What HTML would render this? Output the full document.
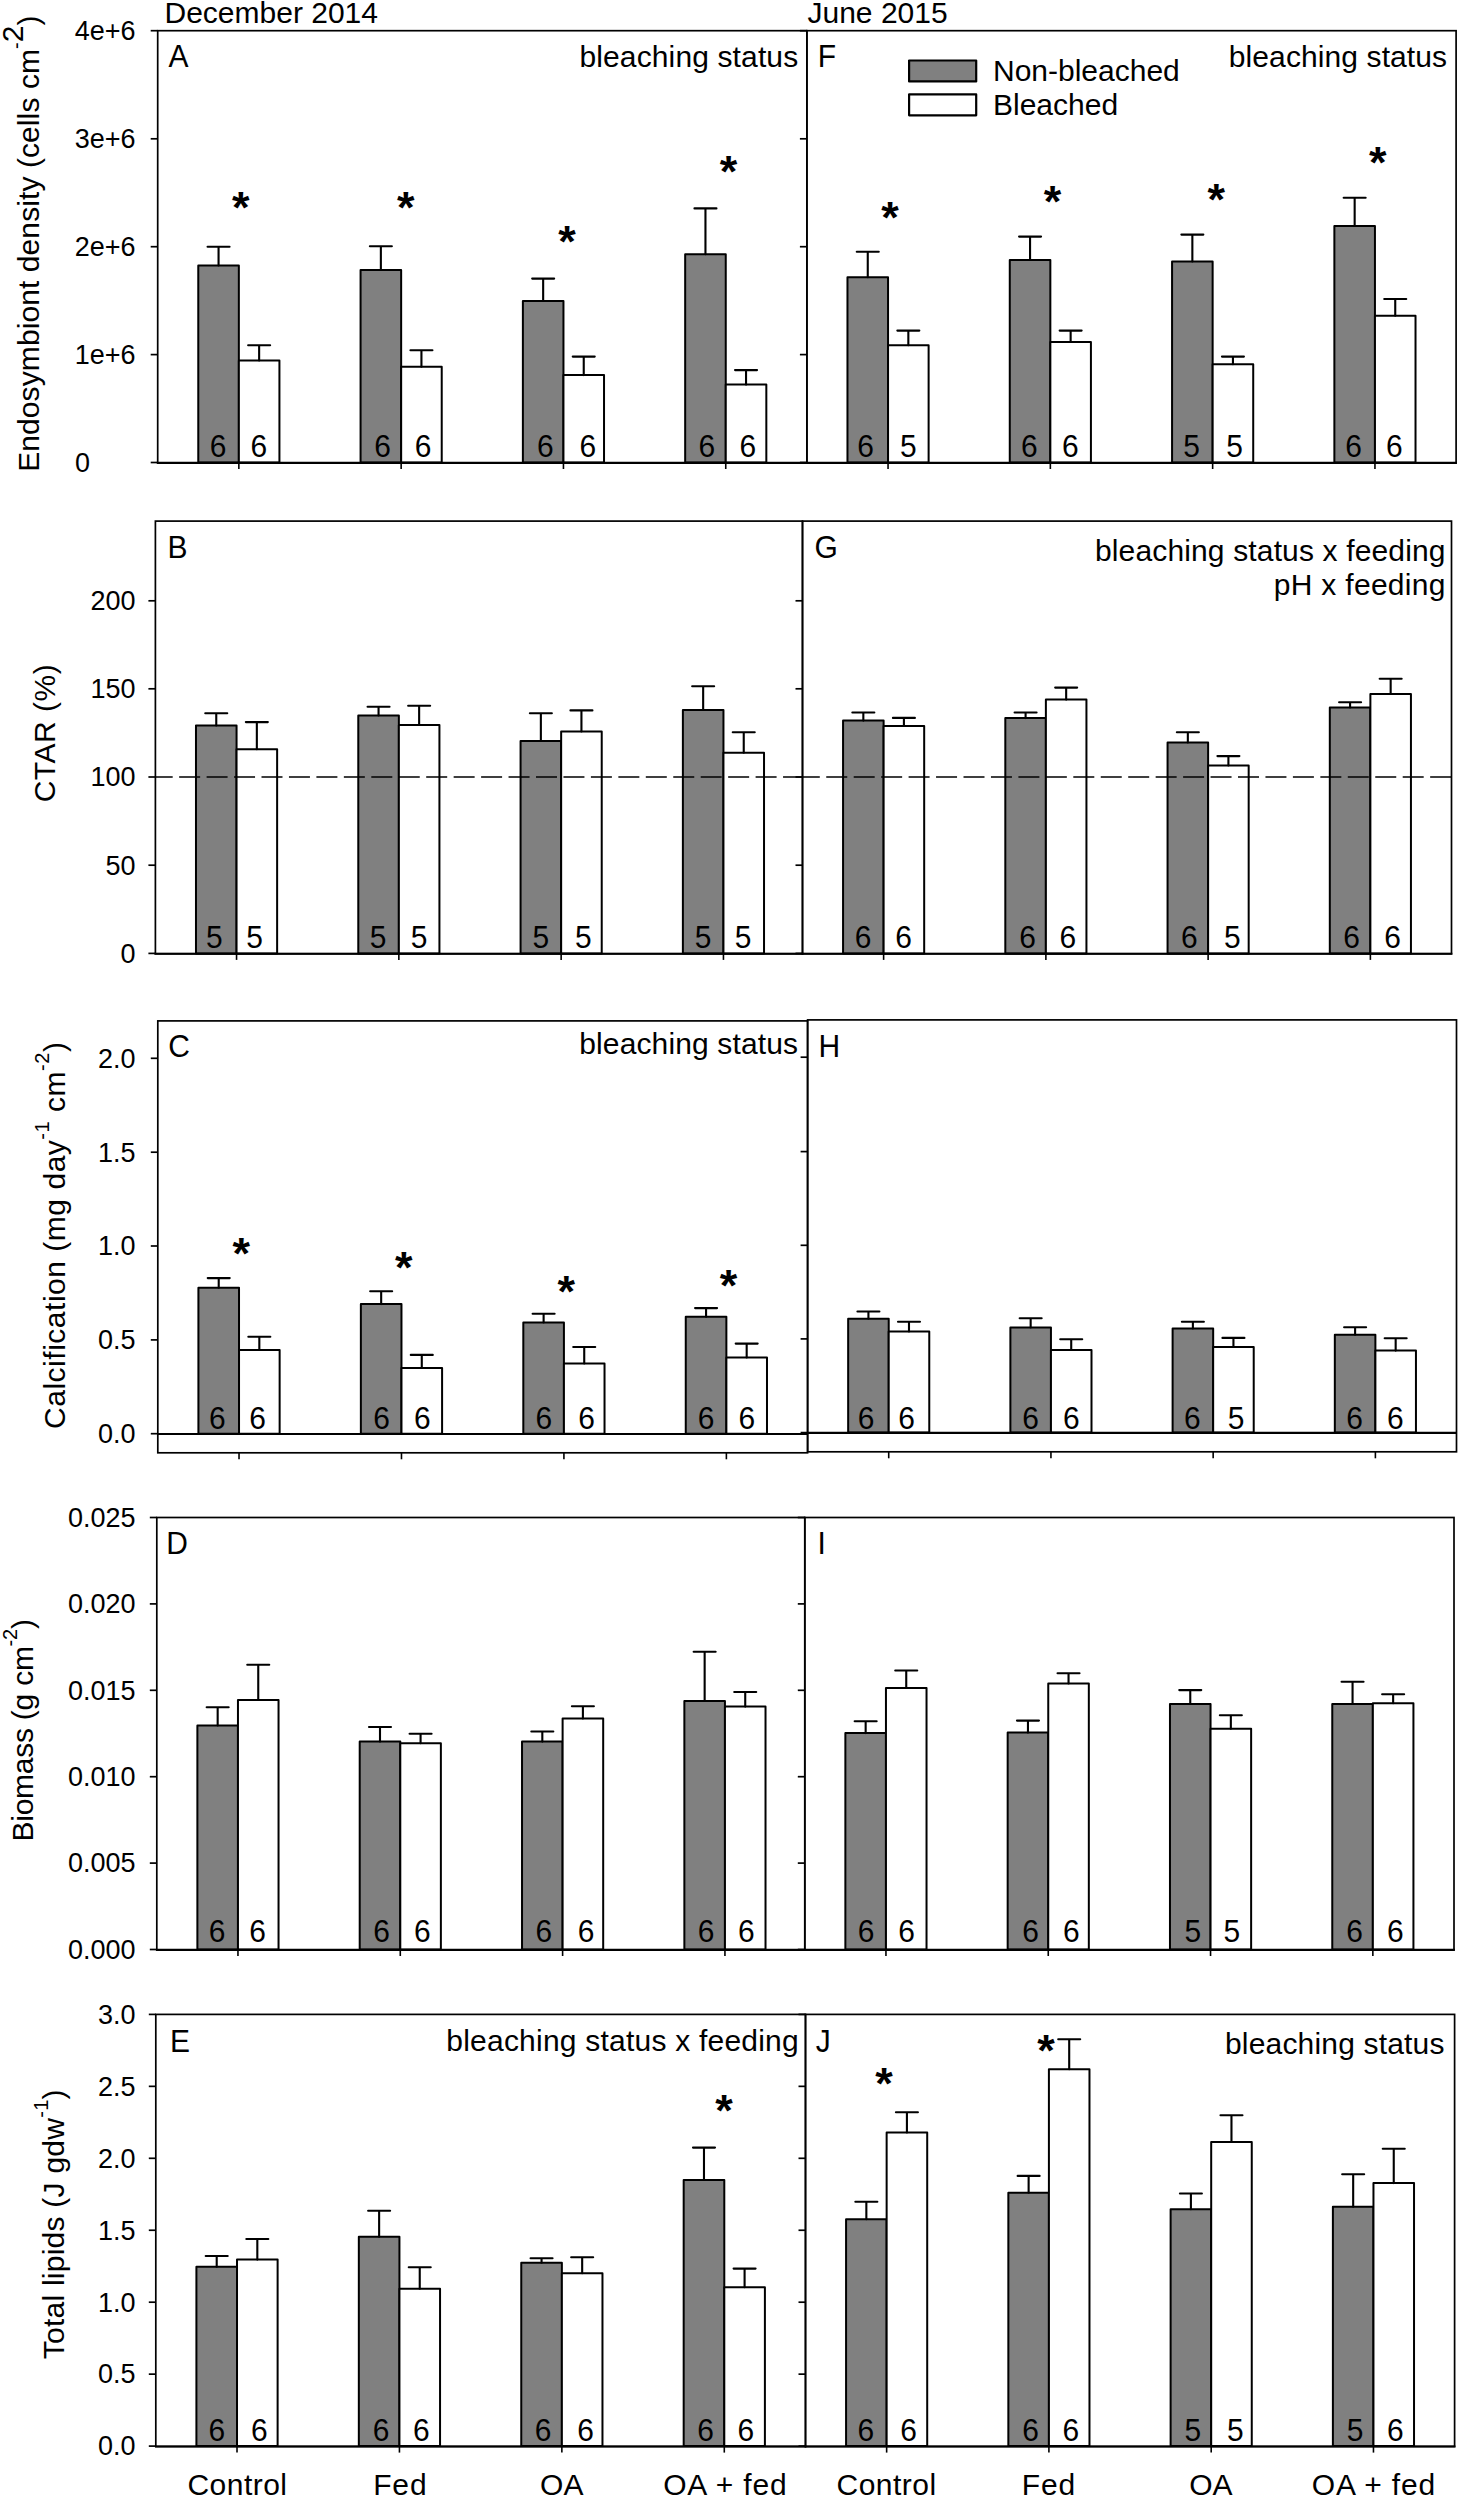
<!DOCTYPE html><html><head><meta charset="utf-8"><title>Figure</title>
<style>html,body{margin:0;padding:0;background:#fff;overflow:hidden;}svg{display:block;}text{font-family:"Liberation Sans", sans-serif;}</style></head><body>
<svg width="1461" height="2500" viewBox="0 0 1461 2500">
<rect x="0" y="0" width="1461" height="2500" fill="#fff"/>
<rect x="198.27" y="265.5" width="40.58" height="197" fill="#808080" stroke="#000" stroke-width="2.0" stroke-linejoin="round"/>
<rect x="238.85" y="360.4" width="40.58" height="102.1" fill="#fff" stroke="#000" stroke-width="2.0" stroke-linejoin="round"/>
<path d="M218.56 265.5V246.8M207.56 246.8H229.56" fill="none" stroke="#000" stroke-width="2.1" stroke-linecap="round"/>
<path d="M259.14 360.4V345.3M248.14 345.3H270.14" fill="none" stroke="#000" stroke-width="2.1" stroke-linecap="round"/>
<text transform="translate(218.2 457.4) scale(1 1.065)" font-size="30" text-anchor="middle">6</text>
<text transform="translate(258.8 457.4) scale(1 1.065)" font-size="30" text-anchor="middle">6</text>
<path d="M238.85 462.5V469" stroke="#000" stroke-width="1.6"/>
<rect x="360.57" y="270" width="40.58" height="192.5" fill="#808080" stroke="#000" stroke-width="2.0" stroke-linejoin="round"/>
<rect x="401.15" y="366.7" width="40.58" height="95.8" fill="#fff" stroke="#000" stroke-width="2.0" stroke-linejoin="round"/>
<path d="M380.86 270V246.3M369.86 246.3H391.86" fill="none" stroke="#000" stroke-width="2.1" stroke-linecap="round"/>
<path d="M421.44 366.7V350.2M410.44 350.2H432.44" fill="none" stroke="#000" stroke-width="2.1" stroke-linecap="round"/>
<text transform="translate(382.5 457.4) scale(1 1.065)" font-size="30" text-anchor="middle">6</text>
<text transform="translate(423.1 457.4) scale(1 1.065)" font-size="30" text-anchor="middle">6</text>
<path d="M401.15 462.5V469" stroke="#000" stroke-width="1.6"/>
<rect x="522.88" y="301" width="40.58" height="161.5" fill="#808080" stroke="#000" stroke-width="2.0" stroke-linejoin="round"/>
<rect x="563.45" y="375.1" width="40.58" height="87.4" fill="#fff" stroke="#000" stroke-width="2.0" stroke-linejoin="round"/>
<path d="M543.16 301V278.6M532.16 278.6H554.16" fill="none" stroke="#000" stroke-width="2.1" stroke-linecap="round"/>
<path d="M583.74 375.1V356.6M572.74 356.6H594.74" fill="none" stroke="#000" stroke-width="2.1" stroke-linecap="round"/>
<text transform="translate(545.3 457.4) scale(1 1.065)" font-size="30" text-anchor="middle">6</text>
<text transform="translate(587.9 457.4) scale(1 1.065)" font-size="30" text-anchor="middle">6</text>
<path d="M563.45 462.5V469" stroke="#000" stroke-width="1.6"/>
<rect x="685.17" y="254.2" width="40.58" height="208.3" fill="#808080" stroke="#000" stroke-width="2.0" stroke-linejoin="round"/>
<rect x="725.75" y="384.6" width="40.58" height="77.9" fill="#fff" stroke="#000" stroke-width="2.0" stroke-linejoin="round"/>
<path d="M705.46 254.2V208.4M694.46 208.4H716.46" fill="none" stroke="#000" stroke-width="2.1" stroke-linecap="round"/>
<path d="M746.04 384.6V370.1M735.04 370.1H757.04" fill="none" stroke="#000" stroke-width="2.1" stroke-linecap="round"/>
<text transform="translate(706.9 457.4) scale(1 1.065)" font-size="30" text-anchor="middle">6</text>
<text transform="translate(747.8 457.4) scale(1 1.065)" font-size="30" text-anchor="middle">6</text>
<path d="M725.75 462.5V469" stroke="#000" stroke-width="1.6"/>
<rect x="157.7" y="30.7" width="649.2" height="432.15" fill="none" stroke="#000" stroke-width="1.7"/>
<path d="M156.85 462.85H807.75" stroke="#000" stroke-width="2.1"/>
<path d="M150.7 462.5H157.7" stroke="#000" stroke-width="1.7"/>
<text transform="translate(75 471.8) scale(1 1.05)" font-size="27">0</text>
<path d="M150.7 354.6H157.7" stroke="#000" stroke-width="1.7"/>
<text transform="translate(135.6 363.9) scale(1 1.05)" font-size="27" text-anchor="end">1e+6</text>
<path d="M150.7 246.7H157.7" stroke="#000" stroke-width="1.7"/>
<text transform="translate(135.6 256) scale(1 1.05)" font-size="27" text-anchor="end">2e+6</text>
<path d="M150.7 138.8H157.7" stroke="#000" stroke-width="1.7"/>
<text transform="translate(135.6 148.1) scale(1 1.05)" font-size="27" text-anchor="end">3e+6</text>
<path d="M150.7 30.7H157.7" stroke="#000" stroke-width="1.7"/>
<text transform="translate(135.6 40) scale(1 1.05)" font-size="27" text-anchor="end">4e+6</text>
<rect x="847.47" y="277.3" width="40.57" height="185.2" fill="#808080" stroke="#000" stroke-width="2.0" stroke-linejoin="round"/>
<rect x="888.05" y="345.3" width="40.57" height="117.2" fill="#fff" stroke="#000" stroke-width="2.0" stroke-linejoin="round"/>
<path d="M867.76 277.3V251.8M856.76 251.8H878.76" fill="none" stroke="#000" stroke-width="2.1" stroke-linecap="round"/>
<path d="M908.34 345.3V330.6M897.34 330.6H919.34" fill="none" stroke="#000" stroke-width="2.1" stroke-linecap="round"/>
<text transform="translate(865.5 457.4) scale(1 1.065)" font-size="30" text-anchor="middle">6</text>
<text transform="translate(908.4 457.4) scale(1 1.065)" font-size="30" text-anchor="middle">5</text>
<path d="M888.05 462.5V469" stroke="#000" stroke-width="1.6"/>
<rect x="1009.77" y="259.9" width="40.57" height="202.6" fill="#808080" stroke="#000" stroke-width="2.0" stroke-linejoin="round"/>
<rect x="1050.35" y="341.9" width="40.57" height="120.6" fill="#fff" stroke="#000" stroke-width="2.0" stroke-linejoin="round"/>
<path d="M1030.06 259.9V236.6M1019.06 236.6H1041.06" fill="none" stroke="#000" stroke-width="2.1" stroke-linecap="round"/>
<path d="M1070.64 341.9V330.6M1059.64 330.6H1081.64" fill="none" stroke="#000" stroke-width="2.1" stroke-linecap="round"/>
<text transform="translate(1029.4 457.4) scale(1 1.065)" font-size="30" text-anchor="middle">6</text>
<text transform="translate(1070.3 457.4) scale(1 1.065)" font-size="30" text-anchor="middle">6</text>
<path d="M1050.35 462.5V469" stroke="#000" stroke-width="1.6"/>
<rect x="1172.07" y="261.5" width="40.57" height="201" fill="#808080" stroke="#000" stroke-width="2.0" stroke-linejoin="round"/>
<rect x="1212.65" y="364.2" width="40.57" height="98.3" fill="#fff" stroke="#000" stroke-width="2.0" stroke-linejoin="round"/>
<path d="M1192.36 261.5V234.6M1181.36 234.6H1203.36" fill="none" stroke="#000" stroke-width="2.1" stroke-linecap="round"/>
<path d="M1232.94 364.2V356.6M1221.94 356.6H1243.94" fill="none" stroke="#000" stroke-width="2.1" stroke-linecap="round"/>
<text transform="translate(1191.6 457.4) scale(1 1.065)" font-size="30" text-anchor="middle">5</text>
<text transform="translate(1234.6 457.4) scale(1 1.065)" font-size="30" text-anchor="middle">5</text>
<path d="M1212.65 462.5V469" stroke="#000" stroke-width="1.6"/>
<rect x="1334.37" y="226" width="40.57" height="236.5" fill="#808080" stroke="#000" stroke-width="2.0" stroke-linejoin="round"/>
<rect x="1374.95" y="315.7" width="40.57" height="146.8" fill="#fff" stroke="#000" stroke-width="2.0" stroke-linejoin="round"/>
<path d="M1354.66 226V197.8M1343.66 197.8H1365.66" fill="none" stroke="#000" stroke-width="2.1" stroke-linecap="round"/>
<path d="M1395.24 315.7V299M1384.24 299H1406.24" fill="none" stroke="#000" stroke-width="2.1" stroke-linecap="round"/>
<text transform="translate(1353.5 457.4) scale(1 1.065)" font-size="30" text-anchor="middle">6</text>
<text transform="translate(1394.4 457.4) scale(1 1.065)" font-size="30" text-anchor="middle">6</text>
<path d="M1374.95 462.5V469" stroke="#000" stroke-width="1.6"/>
<rect x="806.9" y="30.7" width="649.2" height="432.15" fill="none" stroke="#000" stroke-width="1.7"/>
<path d="M806.05 462.85H1456.95" stroke="#000" stroke-width="2.1"/>
<path d="M799.9 462.5H806.9" stroke="#000" stroke-width="1.7"/>
<path d="M799.9 354.6H806.9" stroke="#000" stroke-width="1.7"/>
<path d="M799.9 246.7H806.9" stroke="#000" stroke-width="1.7"/>
<path d="M799.9 138.8H806.9" stroke="#000" stroke-width="1.7"/>
<path d="M799.9 30.7H806.9" stroke="#000" stroke-width="1.7"/>
<rect x="195.98" y="725.5" width="40.58" height="227.9" fill="#808080" stroke="#000" stroke-width="2.0" stroke-linejoin="round"/>
<rect x="236.55" y="749.2" width="40.58" height="204.2" fill="#fff" stroke="#000" stroke-width="2.0" stroke-linejoin="round"/>
<path d="M216.26 725.5V713.3M205.26 713.3H227.26" fill="none" stroke="#000" stroke-width="2.1" stroke-linecap="round"/>
<path d="M256.84 749.2V722.1M245.84 722.1H267.84" fill="none" stroke="#000" stroke-width="2.1" stroke-linecap="round"/>
<text transform="translate(214.3 948) scale(1 1.065)" font-size="30" text-anchor="middle">5</text>
<text transform="translate(254.7 948) scale(1 1.065)" font-size="30" text-anchor="middle">5</text>
<path d="M236.55 953.4V959.9" stroke="#000" stroke-width="1.6"/>
<rect x="358.28" y="715.5" width="40.58" height="237.9" fill="#808080" stroke="#000" stroke-width="2.0" stroke-linejoin="round"/>
<rect x="398.85" y="725" width="40.58" height="228.4" fill="#fff" stroke="#000" stroke-width="2.0" stroke-linejoin="round"/>
<path d="M378.56 715.5V706.7M367.56 706.7H389.56" fill="none" stroke="#000" stroke-width="2.1" stroke-linecap="round"/>
<path d="M419.14 725V705.8M408.14 705.8H430.14" fill="none" stroke="#000" stroke-width="2.1" stroke-linecap="round"/>
<text transform="translate(378.1 948) scale(1 1.065)" font-size="30" text-anchor="middle">5</text>
<text transform="translate(419 948) scale(1 1.065)" font-size="30" text-anchor="middle">5</text>
<path d="M398.85 953.4V959.9" stroke="#000" stroke-width="1.6"/>
<rect x="520.57" y="740.9" width="40.58" height="212.5" fill="#808080" stroke="#000" stroke-width="2.0" stroke-linejoin="round"/>
<rect x="561.15" y="731.4" width="40.58" height="222" fill="#fff" stroke="#000" stroke-width="2.0" stroke-linejoin="round"/>
<path d="M540.86 740.9V713.3M529.86 713.3H551.86" fill="none" stroke="#000" stroke-width="2.1" stroke-linecap="round"/>
<path d="M581.44 731.4V710.4M570.44 710.4H592.44" fill="none" stroke="#000" stroke-width="2.1" stroke-linecap="round"/>
<text transform="translate(540.8 948) scale(1 1.065)" font-size="30" text-anchor="middle">5</text>
<text transform="translate(583.3 948) scale(1 1.065)" font-size="30" text-anchor="middle">5</text>
<path d="M561.15 953.4V959.9" stroke="#000" stroke-width="1.6"/>
<rect x="682.88" y="709.9" width="40.58" height="243.5" fill="#808080" stroke="#000" stroke-width="2.0" stroke-linejoin="round"/>
<rect x="723.45" y="752.8" width="40.58" height="200.6" fill="#fff" stroke="#000" stroke-width="2.0" stroke-linejoin="round"/>
<path d="M703.16 709.9V686.2M692.16 686.2H714.16" fill="none" stroke="#000" stroke-width="2.1" stroke-linecap="round"/>
<path d="M743.74 752.8V732.3M732.74 732.3H754.74" fill="none" stroke="#000" stroke-width="2.1" stroke-linecap="round"/>
<text transform="translate(703 948) scale(1 1.065)" font-size="30" text-anchor="middle">5</text>
<text transform="translate(743.1 948) scale(1 1.065)" font-size="30" text-anchor="middle">5</text>
<path d="M723.45 953.4V959.9" stroke="#000" stroke-width="1.6"/>
<path d="M155.4 777H802.5" stroke="#000" stroke-width="1.7" stroke-dasharray="21 6.45" stroke-dashoffset="3.7"/>
<rect x="155.4" y="521.1" width="647.1" height="432.65" fill="none" stroke="#000" stroke-width="1.7"/>
<path d="M154.55 953.75H803.35" stroke="#000" stroke-width="2.1"/>
<path d="M148.4 953.4H155.4" stroke="#000" stroke-width="1.7"/>
<text transform="translate(135.6 962.7) scale(1 1.05)" font-size="27" text-anchor="end">0</text>
<path d="M148.4 865.2H155.4" stroke="#000" stroke-width="1.7"/>
<text transform="translate(135.6 874.5) scale(1 1.05)" font-size="27" text-anchor="end">50</text>
<path d="M148.4 777H155.4" stroke="#000" stroke-width="1.7"/>
<text transform="translate(135.6 786.3) scale(1 1.05)" font-size="27" text-anchor="end">100</text>
<path d="M148.4 688.8H155.4" stroke="#000" stroke-width="1.7"/>
<text transform="translate(135.6 698.1) scale(1 1.05)" font-size="27" text-anchor="end">150</text>
<path d="M148.4 600.8H155.4" stroke="#000" stroke-width="1.7"/>
<text transform="translate(135.6 610.1) scale(1 1.05)" font-size="27" text-anchor="end">200</text>
<rect x="843.06" y="720.6" width="40.56" height="232.8" fill="#808080" stroke="#000" stroke-width="2.0" stroke-linejoin="round"/>
<rect x="883.62" y="726" width="40.56" height="227.4" fill="#fff" stroke="#000" stroke-width="2.0" stroke-linejoin="round"/>
<path d="M863.34 720.6V712.5M852.34 712.5H874.34" fill="none" stroke="#000" stroke-width="2.1" stroke-linecap="round"/>
<path d="M903.91 726V717.9M892.91 717.9H914.91" fill="none" stroke="#000" stroke-width="2.1" stroke-linecap="round"/>
<text transform="translate(863 948) scale(1 1.065)" font-size="30" text-anchor="middle">6</text>
<text transform="translate(903.6 948) scale(1 1.065)" font-size="30" text-anchor="middle">6</text>
<path d="M883.62 953.4V959.9" stroke="#000" stroke-width="1.6"/>
<rect x="1005.31" y="718.1" width="40.56" height="235.3" fill="#808080" stroke="#000" stroke-width="2.0" stroke-linejoin="round"/>
<rect x="1045.88" y="699.6" width="40.56" height="253.8" fill="#fff" stroke="#000" stroke-width="2.0" stroke-linejoin="round"/>
<path d="M1025.59 718.1V712.5M1014.59 712.5H1036.59" fill="none" stroke="#000" stroke-width="2.1" stroke-linecap="round"/>
<path d="M1066.16 699.6V687.6M1055.16 687.6H1077.16" fill="none" stroke="#000" stroke-width="2.1" stroke-linecap="round"/>
<text transform="translate(1027.5 948) scale(1 1.065)" font-size="30" text-anchor="middle">6</text>
<text transform="translate(1067.9 948) scale(1 1.065)" font-size="30" text-anchor="middle">6</text>
<path d="M1045.88 953.4V959.9" stroke="#000" stroke-width="1.6"/>
<rect x="1167.56" y="742.5" width="40.56" height="210.9" fill="#808080" stroke="#000" stroke-width="2.0" stroke-linejoin="round"/>
<rect x="1208.12" y="765.5" width="40.56" height="187.9" fill="#fff" stroke="#000" stroke-width="2.0" stroke-linejoin="round"/>
<path d="M1187.84 742.5V732.3M1176.84 732.3H1198.84" fill="none" stroke="#000" stroke-width="2.1" stroke-linecap="round"/>
<path d="M1228.41 765.5V756.1M1217.41 756.1H1239.41" fill="none" stroke="#000" stroke-width="2.1" stroke-linecap="round"/>
<text transform="translate(1189.4 948) scale(1 1.065)" font-size="30" text-anchor="middle">6</text>
<text transform="translate(1232.4 948) scale(1 1.065)" font-size="30" text-anchor="middle">5</text>
<path d="M1208.12 953.4V959.9" stroke="#000" stroke-width="1.6"/>
<rect x="1329.81" y="707.5" width="40.56" height="245.9" fill="#808080" stroke="#000" stroke-width="2.0" stroke-linejoin="round"/>
<rect x="1370.38" y="693.9" width="40.56" height="259.5" fill="#fff" stroke="#000" stroke-width="2.0" stroke-linejoin="round"/>
<path d="M1350.09 707.5V702.3M1339.09 702.3H1361.09" fill="none" stroke="#000" stroke-width="2.1" stroke-linecap="round"/>
<path d="M1390.66 693.9V678.8M1379.66 678.8H1401.66" fill="none" stroke="#000" stroke-width="2.1" stroke-linecap="round"/>
<text transform="translate(1351.6 948) scale(1 1.065)" font-size="30" text-anchor="middle">6</text>
<text transform="translate(1392.5 948) scale(1 1.065)" font-size="30" text-anchor="middle">6</text>
<path d="M1370.38 953.4V959.9" stroke="#000" stroke-width="1.6"/>
<path d="M802.5 777H1451.5" stroke="#000" stroke-width="1.7" stroke-dasharray="21 6.45" stroke-dashoffset="3.7"/>
<rect x="802.5" y="521.1" width="649" height="432.65" fill="none" stroke="#000" stroke-width="1.7"/>
<path d="M801.65 953.75H1452.35" stroke="#000" stroke-width="2.1"/>
<path d="M795.5 953.4H802.5" stroke="#000" stroke-width="1.7"/>
<path d="M795.5 865.2H802.5" stroke="#000" stroke-width="1.7"/>
<path d="M795.5 777H802.5" stroke="#000" stroke-width="1.7"/>
<path d="M795.5 688.8H802.5" stroke="#000" stroke-width="1.7"/>
<path d="M795.5 600.8H802.5" stroke="#000" stroke-width="1.7"/>
<rect x="198.41" y="1287.8" width="40.61" height="145.9" fill="#808080" stroke="#000" stroke-width="2.0" stroke-linejoin="round"/>
<rect x="239.03" y="1349.9" width="40.61" height="83.8" fill="#fff" stroke="#000" stroke-width="2.0" stroke-linejoin="round"/>
<path d="M218.72 1287.8V1278.1M207.72 1278.1H229.72" fill="none" stroke="#000" stroke-width="2.1" stroke-linecap="round"/>
<path d="M259.33 1349.9V1336.8M248.33 1336.8H270.33" fill="none" stroke="#000" stroke-width="2.1" stroke-linecap="round"/>
<text transform="translate(217.3 1428.5) scale(1 1.065)" font-size="30" text-anchor="middle">6</text>
<text transform="translate(257.5 1428.5) scale(1 1.065)" font-size="30" text-anchor="middle">6</text>
<path d="M239.03 1452.8V1459.3" stroke="#000" stroke-width="1.6"/>
<rect x="360.86" y="1304.1" width="40.61" height="129.6" fill="#808080" stroke="#000" stroke-width="2.0" stroke-linejoin="round"/>
<rect x="401.48" y="1368" width="40.61" height="65.7" fill="#fff" stroke="#000" stroke-width="2.0" stroke-linejoin="round"/>
<path d="M381.17 1304.1V1291.2M370.17 1291.2H392.17" fill="none" stroke="#000" stroke-width="2.1" stroke-linecap="round"/>
<path d="M421.78 1368V1354.9M410.78 1354.9H432.78" fill="none" stroke="#000" stroke-width="2.1" stroke-linecap="round"/>
<text transform="translate(381.5 1428.5) scale(1 1.065)" font-size="30" text-anchor="middle">6</text>
<text transform="translate(422.3 1428.5) scale(1 1.065)" font-size="30" text-anchor="middle">6</text>
<path d="M401.48 1452.8V1459.3" stroke="#000" stroke-width="1.6"/>
<rect x="523.31" y="1322.4" width="40.61" height="111.3" fill="#808080" stroke="#000" stroke-width="2.0" stroke-linejoin="round"/>
<rect x="563.92" y="1363.5" width="40.61" height="70.2" fill="#fff" stroke="#000" stroke-width="2.0" stroke-linejoin="round"/>
<path d="M543.62 1322.4V1313.8M532.62 1313.8H554.62" fill="none" stroke="#000" stroke-width="2.1" stroke-linecap="round"/>
<path d="M584.23 1363.5V1347M573.23 1347H595.23" fill="none" stroke="#000" stroke-width="2.1" stroke-linecap="round"/>
<text transform="translate(543.8 1428.5) scale(1 1.065)" font-size="30" text-anchor="middle">6</text>
<text transform="translate(586.6 1428.5) scale(1 1.065)" font-size="30" text-anchor="middle">6</text>
<path d="M563.92 1452.8V1459.3" stroke="#000" stroke-width="1.6"/>
<rect x="685.76" y="1316.7" width="40.61" height="117" fill="#808080" stroke="#000" stroke-width="2.0" stroke-linejoin="round"/>
<rect x="726.38" y="1357.4" width="40.61" height="76.3" fill="#fff" stroke="#000" stroke-width="2.0" stroke-linejoin="round"/>
<path d="M706.07 1316.7V1308.1M695.07 1308.1H717.07" fill="none" stroke="#000" stroke-width="2.1" stroke-linecap="round"/>
<path d="M746.68 1357.4V1343.6M735.68 1343.6H757.68" fill="none" stroke="#000" stroke-width="2.1" stroke-linecap="round"/>
<text transform="translate(706.1 1428.5) scale(1 1.065)" font-size="30" text-anchor="middle">6</text>
<text transform="translate(746.9 1428.5) scale(1 1.065)" font-size="30" text-anchor="middle">6</text>
<path d="M726.38 1452.8V1459.3" stroke="#000" stroke-width="1.6"/>
<path d="M157.8 1433.95H807.6" stroke="#000" stroke-width="2.1"/>
<rect x="157.8" y="1020.9" width="649.8" height="431.9" fill="none" stroke="#000" stroke-width="1.7"/>
<path d="M150.8 1433.7H157.8" stroke="#000" stroke-width="1.7"/>
<text transform="translate(135.6 1443) scale(1 1.05)" font-size="27" text-anchor="end">0.0</text>
<path d="M150.8 1339.9H157.8" stroke="#000" stroke-width="1.7"/>
<text transform="translate(135.6 1349.2) scale(1 1.05)" font-size="27" text-anchor="end">0.5</text>
<path d="M150.8 1246H157.8" stroke="#000" stroke-width="1.7"/>
<text transform="translate(135.6 1255.3) scale(1 1.05)" font-size="27" text-anchor="end">1.0</text>
<path d="M150.8 1152.2H157.8" stroke="#000" stroke-width="1.7"/>
<text transform="translate(135.6 1161.5) scale(1 1.05)" font-size="27" text-anchor="end">1.5</text>
<path d="M150.8 1058.3H157.8" stroke="#000" stroke-width="1.7"/>
<text transform="translate(135.6 1067.6) scale(1 1.05)" font-size="27" text-anchor="end">2.0</text>
<rect x="848.16" y="1318.7" width="40.56" height="113.9" fill="#808080" stroke="#000" stroke-width="2.0" stroke-linejoin="round"/>
<rect x="888.71" y="1331.4" width="40.56" height="101.2" fill="#fff" stroke="#000" stroke-width="2.0" stroke-linejoin="round"/>
<path d="M868.43 1318.7V1311.5M857.43 1311.5H879.43" fill="none" stroke="#000" stroke-width="2.1" stroke-linecap="round"/>
<path d="M908.99 1331.4V1321.7M897.99 1321.7H919.99" fill="none" stroke="#000" stroke-width="2.1" stroke-linecap="round"/>
<text transform="translate(866.2 1428.5) scale(1 1.065)" font-size="30" text-anchor="middle">6</text>
<text transform="translate(906.5 1428.5) scale(1 1.065)" font-size="30" text-anchor="middle">6</text>
<path d="M888.71 1451.8V1458.3" stroke="#000" stroke-width="1.6"/>
<rect x="1010.38" y="1327.5" width="40.56" height="105.1" fill="#808080" stroke="#000" stroke-width="2.0" stroke-linejoin="round"/>
<rect x="1050.94" y="1349.9" width="40.56" height="82.7" fill="#fff" stroke="#000" stroke-width="2.0" stroke-linejoin="round"/>
<path d="M1030.66 1327.5V1318.3M1019.66 1318.3H1041.66" fill="none" stroke="#000" stroke-width="2.1" stroke-linecap="round"/>
<path d="M1071.22 1349.9V1339.3M1060.22 1339.3H1082.22" fill="none" stroke="#000" stroke-width="2.1" stroke-linecap="round"/>
<text transform="translate(1030.5 1428.5) scale(1 1.065)" font-size="30" text-anchor="middle">6</text>
<text transform="translate(1071.3 1428.5) scale(1 1.065)" font-size="30" text-anchor="middle">6</text>
<path d="M1050.94 1451.8V1458.3" stroke="#000" stroke-width="1.6"/>
<rect x="1172.61" y="1328.5" width="40.56" height="104.1" fill="#808080" stroke="#000" stroke-width="2.0" stroke-linejoin="round"/>
<rect x="1213.16" y="1347" width="40.56" height="85.6" fill="#fff" stroke="#000" stroke-width="2.0" stroke-linejoin="round"/>
<path d="M1192.88 1328.5V1321.7M1181.88 1321.7H1203.88" fill="none" stroke="#000" stroke-width="2.1" stroke-linecap="round"/>
<path d="M1233.44 1347V1337.9M1222.44 1337.9H1244.44" fill="none" stroke="#000" stroke-width="2.1" stroke-linecap="round"/>
<text transform="translate(1192.3 1428.5) scale(1 1.065)" font-size="30" text-anchor="middle">6</text>
<text transform="translate(1236 1428.5) scale(1 1.065)" font-size="30" text-anchor="middle">5</text>
<path d="M1213.16 1451.8V1458.3" stroke="#000" stroke-width="1.6"/>
<rect x="1334.83" y="1334.8" width="40.56" height="97.8" fill="#808080" stroke="#000" stroke-width="2.0" stroke-linejoin="round"/>
<rect x="1375.39" y="1350.6" width="40.56" height="82" fill="#fff" stroke="#000" stroke-width="2.0" stroke-linejoin="round"/>
<path d="M1355.11 1334.8V1327.3M1344.11 1327.3H1366.11" fill="none" stroke="#000" stroke-width="2.1" stroke-linecap="round"/>
<path d="M1395.67 1350.6V1338.2M1384.67 1338.2H1406.67" fill="none" stroke="#000" stroke-width="2.1" stroke-linecap="round"/>
<text transform="translate(1354.6 1428.5) scale(1 1.065)" font-size="30" text-anchor="middle">6</text>
<text transform="translate(1395.4 1428.5) scale(1 1.065)" font-size="30" text-anchor="middle">6</text>
<path d="M1375.39 1451.8V1458.3" stroke="#000" stroke-width="1.6"/>
<path d="M807.6 1432.85H1456.5" stroke="#000" stroke-width="2.1"/>
<rect x="807.6" y="1019.9" width="648.9" height="431.9" fill="none" stroke="#000" stroke-width="1.7"/>
<path d="M800.6 1432.6H807.6" stroke="#000" stroke-width="1.7"/>
<path d="M800.6 1338.9H807.6" stroke="#000" stroke-width="1.7"/>
<path d="M800.6 1245.3H807.6" stroke="#000" stroke-width="1.7"/>
<path d="M800.6 1151.6H807.6" stroke="#000" stroke-width="1.7"/>
<path d="M800.6 1057.2H807.6" stroke="#000" stroke-width="1.7"/>
<rect x="197.38" y="1725.4" width="40.58" height="224.1" fill="#808080" stroke="#000" stroke-width="2.0" stroke-linejoin="round"/>
<rect x="237.96" y="1699.9" width="40.58" height="249.6" fill="#fff" stroke="#000" stroke-width="2.0" stroke-linejoin="round"/>
<path d="M217.67 1725.4V1707.3M206.67 1707.3H228.67" fill="none" stroke="#000" stroke-width="2.1" stroke-linecap="round"/>
<path d="M258.25 1699.9V1664.8M247.25 1664.8H269.25" fill="none" stroke="#000" stroke-width="2.1" stroke-linecap="round"/>
<text transform="translate(217.2 1941.9) scale(1 1.065)" font-size="30" text-anchor="middle">6</text>
<text transform="translate(257.5 1941.9) scale(1 1.065)" font-size="30" text-anchor="middle">6</text>
<path d="M237.96 1949.5V1956" stroke="#000" stroke-width="1.6"/>
<rect x="359.71" y="1741.6" width="40.58" height="207.9" fill="#808080" stroke="#000" stroke-width="2.0" stroke-linejoin="round"/>
<rect x="400.29" y="1743.2" width="40.58" height="206.3" fill="#fff" stroke="#000" stroke-width="2.0" stroke-linejoin="round"/>
<path d="M380 1741.6V1727M369 1727H391" fill="none" stroke="#000" stroke-width="2.1" stroke-linecap="round"/>
<path d="M420.58 1743.2V1733.7M409.58 1733.7H431.58" fill="none" stroke="#000" stroke-width="2.1" stroke-linecap="round"/>
<text transform="translate(381.5 1941.9) scale(1 1.065)" font-size="30" text-anchor="middle">6</text>
<text transform="translate(422.3 1941.9) scale(1 1.065)" font-size="30" text-anchor="middle">6</text>
<path d="M400.29 1949.5V1956" stroke="#000" stroke-width="1.6"/>
<rect x="522.03" y="1741.6" width="40.58" height="207.9" fill="#808080" stroke="#000" stroke-width="2.0" stroke-linejoin="round"/>
<rect x="562.61" y="1718.4" width="40.58" height="231.1" fill="#fff" stroke="#000" stroke-width="2.0" stroke-linejoin="round"/>
<path d="M542.32 1741.6V1731.5M531.32 1731.5H553.32" fill="none" stroke="#000" stroke-width="2.1" stroke-linecap="round"/>
<path d="M582.9 1718.4V1706.2M571.9 1706.2H593.9" fill="none" stroke="#000" stroke-width="2.1" stroke-linecap="round"/>
<text transform="translate(543.8 1941.9) scale(1 1.065)" font-size="30" text-anchor="middle">6</text>
<text transform="translate(586.2 1941.9) scale(1 1.065)" font-size="30" text-anchor="middle">6</text>
<path d="M562.61 1949.5V1956" stroke="#000" stroke-width="1.6"/>
<rect x="684.36" y="1701" width="40.58" height="248.5" fill="#808080" stroke="#000" stroke-width="2.0" stroke-linejoin="round"/>
<rect x="724.94" y="1706.6" width="40.58" height="242.9" fill="#fff" stroke="#000" stroke-width="2.0" stroke-linejoin="round"/>
<path d="M704.65 1701V1651.7M693.65 1651.7H715.65" fill="none" stroke="#000" stroke-width="2.1" stroke-linecap="round"/>
<path d="M745.23 1706.6V1692M734.23 1692H756.23" fill="none" stroke="#000" stroke-width="2.1" stroke-linecap="round"/>
<text transform="translate(706.1 1941.9) scale(1 1.065)" font-size="30" text-anchor="middle">6</text>
<text transform="translate(746.3 1941.9) scale(1 1.065)" font-size="30" text-anchor="middle">6</text>
<path d="M724.94 1949.5V1956" stroke="#000" stroke-width="1.6"/>
<rect x="156.8" y="1517.5" width="648" height="432.35" fill="none" stroke="#000" stroke-width="1.7"/>
<path d="M155.95 1949.85H805.65" stroke="#000" stroke-width="2.1"/>
<path d="M149.8 1949.5H156.8" stroke="#000" stroke-width="1.7"/>
<text transform="translate(135.6 1958.8) scale(1 1.05)" font-size="27" text-anchor="end">0.000</text>
<path d="M149.8 1863.1H156.8" stroke="#000" stroke-width="1.7"/>
<text transform="translate(135.6 1872.4) scale(1 1.05)" font-size="27" text-anchor="end">0.005</text>
<path d="M149.8 1776.7H156.8" stroke="#000" stroke-width="1.7"/>
<text transform="translate(135.6 1786) scale(1 1.05)" font-size="27" text-anchor="end">0.010</text>
<path d="M149.8 1690.3H156.8" stroke="#000" stroke-width="1.7"/>
<text transform="translate(135.6 1699.6) scale(1 1.05)" font-size="27" text-anchor="end">0.015</text>
<path d="M149.8 1603.9H156.8" stroke="#000" stroke-width="1.7"/>
<text transform="translate(135.6 1613.2) scale(1 1.05)" font-size="27" text-anchor="end">0.020</text>
<path d="M149.8 1517.5H156.8" stroke="#000" stroke-width="1.7"/>
<text transform="translate(135.6 1526.8) scale(1 1.05)" font-size="27" text-anchor="end">0.025</text>
<rect x="845.37" y="1733.1" width="40.58" height="216.4" fill="#808080" stroke="#000" stroke-width="2.0" stroke-linejoin="round"/>
<rect x="885.95" y="1687.9" width="40.58" height="261.6" fill="#fff" stroke="#000" stroke-width="2.0" stroke-linejoin="round"/>
<path d="M865.66 1733.1V1721.3M854.66 1721.3H876.66" fill="none" stroke="#000" stroke-width="2.1" stroke-linecap="round"/>
<path d="M906.24 1687.9V1670.5M895.24 1670.5H917.24" fill="none" stroke="#000" stroke-width="2.1" stroke-linecap="round"/>
<text transform="translate(866.2 1941.9) scale(1 1.065)" font-size="30" text-anchor="middle">6</text>
<text transform="translate(906.5 1941.9) scale(1 1.065)" font-size="30" text-anchor="middle">6</text>
<path d="M885.95 1949.5V1956" stroke="#000" stroke-width="1.6"/>
<rect x="1007.67" y="1732.6" width="40.58" height="216.9" fill="#808080" stroke="#000" stroke-width="2.0" stroke-linejoin="round"/>
<rect x="1048.25" y="1683.4" width="40.58" height="266.1" fill="#fff" stroke="#000" stroke-width="2.0" stroke-linejoin="round"/>
<path d="M1027.96 1732.6V1720.6M1016.96 1720.6H1038.96" fill="none" stroke="#000" stroke-width="2.1" stroke-linecap="round"/>
<path d="M1068.54 1683.4V1673.2M1057.54 1673.2H1079.54" fill="none" stroke="#000" stroke-width="2.1" stroke-linecap="round"/>
<text transform="translate(1030.5 1941.9) scale(1 1.065)" font-size="30" text-anchor="middle">6</text>
<text transform="translate(1071.3 1941.9) scale(1 1.065)" font-size="30" text-anchor="middle">6</text>
<path d="M1048.25 1949.5V1956" stroke="#000" stroke-width="1.6"/>
<rect x="1169.97" y="1703.9" width="40.58" height="245.6" fill="#808080" stroke="#000" stroke-width="2.0" stroke-linejoin="round"/>
<rect x="1210.55" y="1728.8" width="40.58" height="220.7" fill="#fff" stroke="#000" stroke-width="2.0" stroke-linejoin="round"/>
<path d="M1190.26 1703.9V1690.1M1179.26 1690.1H1201.26" fill="none" stroke="#000" stroke-width="2.1" stroke-linecap="round"/>
<path d="M1230.84 1728.8V1715.2M1219.84 1715.2H1241.84" fill="none" stroke="#000" stroke-width="2.1" stroke-linecap="round"/>
<text transform="translate(1192.9 1941.9) scale(1 1.065)" font-size="30" text-anchor="middle">5</text>
<text transform="translate(1231.9 1941.9) scale(1 1.065)" font-size="30" text-anchor="middle">5</text>
<path d="M1210.55 1949.5V1956" stroke="#000" stroke-width="1.6"/>
<rect x="1332.27" y="1703.9" width="40.58" height="245.6" fill="#808080" stroke="#000" stroke-width="2.0" stroke-linejoin="round"/>
<rect x="1372.85" y="1703.2" width="40.58" height="246.3" fill="#fff" stroke="#000" stroke-width="2.0" stroke-linejoin="round"/>
<path d="M1352.56 1703.9V1681.8M1341.56 1681.8H1363.56" fill="none" stroke="#000" stroke-width="2.1" stroke-linecap="round"/>
<path d="M1393.14 1703.2V1694.2M1382.14 1694.2H1404.14" fill="none" stroke="#000" stroke-width="2.1" stroke-linecap="round"/>
<text transform="translate(1354.6 1941.9) scale(1 1.065)" font-size="30" text-anchor="middle">6</text>
<text transform="translate(1395.4 1941.9) scale(1 1.065)" font-size="30" text-anchor="middle">6</text>
<path d="M1372.85 1949.5V1956" stroke="#000" stroke-width="1.6"/>
<rect x="804.8" y="1517.5" width="649.2" height="432.35" fill="none" stroke="#000" stroke-width="1.7"/>
<path d="M803.95 1949.85H1454.85" stroke="#000" stroke-width="2.1"/>
<path d="M797.8 1949.5H804.8" stroke="#000" stroke-width="1.7"/>
<path d="M797.8 1863.1H804.8" stroke="#000" stroke-width="1.7"/>
<path d="M797.8 1776.7H804.8" stroke="#000" stroke-width="1.7"/>
<path d="M797.8 1690.3H804.8" stroke="#000" stroke-width="1.7"/>
<path d="M797.8 1603.9H804.8" stroke="#000" stroke-width="1.7"/>
<path d="M797.8 1517.5H804.8" stroke="#000" stroke-width="1.7"/>
<rect x="196.41" y="2266.8" width="40.61" height="179.3" fill="#808080" stroke="#000" stroke-width="2.0" stroke-linejoin="round"/>
<rect x="237.01" y="2259.6" width="40.61" height="186.5" fill="#fff" stroke="#000" stroke-width="2.0" stroke-linejoin="round"/>
<path d="M216.71 2266.8V2256M205.71 2256H227.71" fill="none" stroke="#000" stroke-width="2.1" stroke-linecap="round"/>
<path d="M257.32 2259.6V2239M246.32 2239H268.32" fill="none" stroke="#000" stroke-width="2.1" stroke-linecap="round"/>
<text transform="translate(216.8 2441.2) scale(1 1.065)" font-size="30" text-anchor="middle">6</text>
<text transform="translate(259.3 2441.2) scale(1 1.065)" font-size="30" text-anchor="middle">6</text>
<path d="M237.01 2446.1V2452.6" stroke="#000" stroke-width="1.6"/>
<rect x="358.83" y="2236.8" width="40.61" height="209.3" fill="#808080" stroke="#000" stroke-width="2.0" stroke-linejoin="round"/>
<rect x="399.44" y="2288.7" width="40.61" height="157.4" fill="#fff" stroke="#000" stroke-width="2.0" stroke-linejoin="round"/>
<path d="M379.13 2236.8V2210.8M368.13 2210.8H390.13" fill="none" stroke="#000" stroke-width="2.1" stroke-linecap="round"/>
<path d="M419.74 2288.7V2267.3M408.74 2267.3H430.74" fill="none" stroke="#000" stroke-width="2.1" stroke-linecap="round"/>
<text transform="translate(381.1 2441.2) scale(1 1.065)" font-size="30" text-anchor="middle">6</text>
<text transform="translate(421.3 2441.2) scale(1 1.065)" font-size="30" text-anchor="middle">6</text>
<path d="M399.44 2446.1V2452.6" stroke="#000" stroke-width="1.6"/>
<rect x="521.26" y="2262.8" width="40.61" height="183.3" fill="#808080" stroke="#000" stroke-width="2.0" stroke-linejoin="round"/>
<rect x="561.86" y="2273.2" width="40.61" height="172.9" fill="#fff" stroke="#000" stroke-width="2.0" stroke-linejoin="round"/>
<path d="M541.56 2262.8V2258.2M530.56 2258.2H552.56" fill="none" stroke="#000" stroke-width="2.1" stroke-linecap="round"/>
<path d="M582.17 2273.2V2257.3M571.17 2257.3H593.17" fill="none" stroke="#000" stroke-width="2.1" stroke-linecap="round"/>
<text transform="translate(543.2 2441.2) scale(1 1.065)" font-size="30" text-anchor="middle">6</text>
<text transform="translate(585.7 2441.2) scale(1 1.065)" font-size="30" text-anchor="middle">6</text>
<path d="M561.86 2446.1V2452.6" stroke="#000" stroke-width="1.6"/>
<rect x="683.68" y="2179.9" width="40.61" height="266.2" fill="#808080" stroke="#000" stroke-width="2.0" stroke-linejoin="round"/>
<rect x="724.29" y="2287.2" width="40.61" height="158.9" fill="#fff" stroke="#000" stroke-width="2.0" stroke-linejoin="round"/>
<path d="M703.98 2179.9V2147.6M692.98 2147.6H714.98" fill="none" stroke="#000" stroke-width="2.1" stroke-linecap="round"/>
<path d="M744.59 2287.2V2268.6M733.59 2268.6H755.59" fill="none" stroke="#000" stroke-width="2.1" stroke-linecap="round"/>
<text transform="translate(705.5 2441.2) scale(1 1.065)" font-size="30" text-anchor="middle">6</text>
<text transform="translate(745.9 2441.2) scale(1 1.065)" font-size="30" text-anchor="middle">6</text>
<path d="M724.29 2446.1V2452.6" stroke="#000" stroke-width="1.6"/>
<rect x="155.8" y="2014.4" width="649.7" height="432.05" fill="none" stroke="#000" stroke-width="1.7"/>
<path d="M154.95 2446.45H806.35" stroke="#000" stroke-width="2.1"/>
<path d="M148.8 2446.1H155.8" stroke="#000" stroke-width="1.7"/>
<text transform="translate(135.6 2455.4) scale(1 1.05)" font-size="27" text-anchor="end">0.0</text>
<path d="M148.8 2374.15H155.8" stroke="#000" stroke-width="1.7"/>
<text transform="translate(135.6 2383.45) scale(1 1.05)" font-size="27" text-anchor="end">0.5</text>
<path d="M148.8 2302.2H155.8" stroke="#000" stroke-width="1.7"/>
<text transform="translate(135.6 2311.5) scale(1 1.05)" font-size="27" text-anchor="end">1.0</text>
<path d="M148.8 2230.25H155.8" stroke="#000" stroke-width="1.7"/>
<text transform="translate(135.6 2239.55) scale(1 1.05)" font-size="27" text-anchor="end">1.5</text>
<path d="M148.8 2158.3H155.8" stroke="#000" stroke-width="1.7"/>
<text transform="translate(135.6 2167.6) scale(1 1.05)" font-size="27" text-anchor="end">2.0</text>
<path d="M148.8 2086.35H155.8" stroke="#000" stroke-width="1.7"/>
<text transform="translate(135.6 2095.65) scale(1 1.05)" font-size="27" text-anchor="end">2.5</text>
<path d="M148.8 2014.4H155.8" stroke="#000" stroke-width="1.7"/>
<text transform="translate(135.6 2023.7) scale(1 1.05)" font-size="27" text-anchor="end">3.0</text>
<rect x="846.07" y="2219.2" width="40.57" height="226.9" fill="#808080" stroke="#000" stroke-width="2.0" stroke-linejoin="round"/>
<rect x="886.64" y="2132.5" width="40.57" height="313.6" fill="#fff" stroke="#000" stroke-width="2.0" stroke-linejoin="round"/>
<path d="M866.35 2219.2V2201.8M855.35 2201.8H877.35" fill="none" stroke="#000" stroke-width="2.1" stroke-linecap="round"/>
<path d="M906.92 2132.5V2112.2M895.92 2112.2H917.92" fill="none" stroke="#000" stroke-width="2.1" stroke-linecap="round"/>
<text transform="translate(865.8 2441.2) scale(1 1.065)" font-size="30" text-anchor="middle">6</text>
<text transform="translate(908.5 2441.2) scale(1 1.065)" font-size="30" text-anchor="middle">6</text>
<path d="M886.64 2446.1V2452.6" stroke="#000" stroke-width="1.6"/>
<rect x="1008.34" y="2192.8" width="40.57" height="253.3" fill="#808080" stroke="#000" stroke-width="2.0" stroke-linejoin="round"/>
<rect x="1048.91" y="2069.2" width="40.57" height="376.9" fill="#fff" stroke="#000" stroke-width="2.0" stroke-linejoin="round"/>
<path d="M1028.63 2192.8V2175.9M1017.63 2175.9H1039.63" fill="none" stroke="#000" stroke-width="2.1" stroke-linecap="round"/>
<path d="M1069.2 2069.2V2039.2M1058.2 2039.2H1080.2" fill="none" stroke="#000" stroke-width="2.1" stroke-linecap="round"/>
<text transform="translate(1030.5 2441.2) scale(1 1.065)" font-size="30" text-anchor="middle">6</text>
<text transform="translate(1070.9 2441.2) scale(1 1.065)" font-size="30" text-anchor="middle">6</text>
<path d="M1048.91 2446.1V2452.6" stroke="#000" stroke-width="1.6"/>
<rect x="1170.62" y="2209.3" width="40.57" height="236.8" fill="#808080" stroke="#000" stroke-width="2.0" stroke-linejoin="round"/>
<rect x="1211.19" y="2142" width="40.57" height="304.1" fill="#fff" stroke="#000" stroke-width="2.0" stroke-linejoin="round"/>
<path d="M1190.9 2209.3V2193.5M1179.9 2193.5H1201.9" fill="none" stroke="#000" stroke-width="2.1" stroke-linecap="round"/>
<path d="M1231.47 2142V2115.3M1220.47 2115.3H1242.47" fill="none" stroke="#000" stroke-width="2.1" stroke-linecap="round"/>
<text transform="translate(1192.9 2441.2) scale(1 1.065)" font-size="30" text-anchor="middle">5</text>
<text transform="translate(1235.3 2441.2) scale(1 1.065)" font-size="30" text-anchor="middle">5</text>
<path d="M1211.19 2446.1V2452.6" stroke="#000" stroke-width="1.6"/>
<rect x="1332.89" y="2206.8" width="40.57" height="239.3" fill="#808080" stroke="#000" stroke-width="2.0" stroke-linejoin="round"/>
<rect x="1373.46" y="2183.1" width="40.57" height="263" fill="#fff" stroke="#000" stroke-width="2.0" stroke-linejoin="round"/>
<path d="M1353.18 2206.8V2174.3M1342.18 2174.3H1364.18" fill="none" stroke="#000" stroke-width="2.1" stroke-linecap="round"/>
<path d="M1393.75 2183.1V2148.8M1382.75 2148.8H1404.75" fill="none" stroke="#000" stroke-width="2.1" stroke-linecap="round"/>
<text transform="translate(1355.1 2441.2) scale(1 1.065)" font-size="30" text-anchor="middle">5</text>
<text transform="translate(1395.4 2441.2) scale(1 1.065)" font-size="30" text-anchor="middle">6</text>
<path d="M1373.46 2446.1V2452.6" stroke="#000" stroke-width="1.6"/>
<rect x="805.5" y="2014.4" width="649.1" height="432.05" fill="none" stroke="#000" stroke-width="1.7"/>
<path d="M804.65 2446.45H1455.45" stroke="#000" stroke-width="2.1"/>
<path d="M798.5 2446.1H805.5" stroke="#000" stroke-width="1.7"/>
<path d="M798.5 2374.15H805.5" stroke="#000" stroke-width="1.7"/>
<path d="M798.5 2302.2H805.5" stroke="#000" stroke-width="1.7"/>
<path d="M798.5 2230.25H805.5" stroke="#000" stroke-width="1.7"/>
<path d="M798.5 2158.3H805.5" stroke="#000" stroke-width="1.7"/>
<path d="M798.5 2086.35H805.5" stroke="#000" stroke-width="1.7"/>
<path d="M798.5 2014.4H805.5" stroke="#000" stroke-width="1.7"/>
<text transform="translate(168.5 66.8) scale(1 1.075)" font-size="30">A</text>
<text transform="translate(817.8 66.9) scale(1 1.075)" font-size="30">F</text>
<text transform="translate(167.5 557.8) scale(1 1.075)" font-size="30">B</text>
<text transform="translate(814.4 557.9) scale(1 1.075)" font-size="30">G</text>
<text transform="translate(168.2 1056.5) scale(1 1.075)" font-size="30">C</text>
<text transform="translate(818.5 1056.8) scale(1 1.075)" font-size="30">H</text>
<text transform="translate(166.3 1553.8) scale(1 1.075)" font-size="30">D</text>
<text transform="translate(817.4 1553.7) scale(1 1.075)" font-size="30">I</text>
<text transform="translate(169.9 2051.7) scale(1 1.075)" font-size="30">E</text>
<text transform="translate(815.7 2051.5) scale(1 1.075)" font-size="30">J</text>
<text x="798.33" y="67" font-size="30" text-anchor="end" letter-spacing="0.13">bleaching status</text>
<text x="1447.2" y="66.7" font-size="30" text-anchor="end" letter-spacing="0.1">bleaching status</text>
<text x="798.13" y="1054.4" font-size="30" text-anchor="end" letter-spacing="0.13">bleaching status</text>
<text x="798.92" y="2051.2" font-size="30" text-anchor="end" letter-spacing="0.22">bleaching status x feeding</text>
<text x="1445.64" y="561.3" font-size="30" text-anchor="end" letter-spacing="0.144">bleaching status x feeding</text>
<text x="1445.8" y="594.5" font-size="30" text-anchor="end" letter-spacing="0.3">pH x feeding</text>
<text x="1444.68" y="2053.9" font-size="30" text-anchor="end" letter-spacing="0.18">bleaching status</text>
<text x="240.7" y="222.8" font-size="45" font-weight="bold" text-anchor="middle">*</text>
<text x="405.7" y="222.8" font-size="45" font-weight="bold" text-anchor="middle">*</text>
<text x="567.1" y="257.1" font-size="45" font-weight="bold" text-anchor="middle">*</text>
<text x="728.6" y="187.4" font-size="45" font-weight="bold" text-anchor="middle">*</text>
<text x="890" y="232.5" font-size="45" font-weight="bold" text-anchor="middle">*</text>
<text x="1052.6" y="216.7" font-size="45" font-weight="bold" text-anchor="middle">*</text>
<text x="1216.2" y="214.5" font-size="45" font-weight="bold" text-anchor="middle">*</text>
<text x="1377.7" y="178.3" font-size="45" font-weight="bold" text-anchor="middle">*</text>
<text x="241.2" y="1269.1" font-size="45" font-weight="bold" text-anchor="middle">*</text>
<text x="403.8" y="1282.9" font-size="45" font-weight="bold" text-anchor="middle">*</text>
<text x="566.2" y="1307.4" font-size="45" font-weight="bold" text-anchor="middle">*</text>
<text x="728.4" y="1301.2" font-size="45" font-weight="bold" text-anchor="middle">*</text>
<text x="724.1" y="2125.8" font-size="45" font-weight="bold" text-anchor="middle">*</text>
<text x="884" y="2099.3" font-size="45" font-weight="bold" text-anchor="middle">*</text>
<text x="1045.9" y="2066.1" font-size="45" font-weight="bold" text-anchor="middle">*</text>
<text x="164.5" y="23.1" font-size="30">December 2014</text>
<text x="807.5" y="23.1" font-size="30">June 2015</text>
<rect x="909.1" y="60.5" width="67.1" height="20.9" fill="#808080" stroke="#000" stroke-width="2.2" stroke-linejoin="round"/>
<rect x="909.1" y="94.4" width="67.1" height="20.9" fill="#fff" stroke="#000" stroke-width="2.2" stroke-linejoin="round"/>
<text x="993" y="81.4" font-size="30">Non-bleached</text>
<text x="993" y="115.3" font-size="30">Bleached</text>
<text x="237.44" y="2495" font-size="30" text-anchor="middle" letter-spacing="0.47">Control</text>
<text x="400.32" y="2495" font-size="30" text-anchor="middle" letter-spacing="0.85">Fed</text>
<text x="561.8" y="2495" font-size="30" text-anchor="middle" letter-spacing="0.0">OA</text>
<text x="725.31" y="2495" font-size="30" text-anchor="middle" letter-spacing="0.83">OA + fed</text>
<text x="886.53" y="2495" font-size="30" text-anchor="middle" letter-spacing="0.47">Control</text>
<text x="1048.92" y="2495" font-size="30" text-anchor="middle" letter-spacing="0.85">Fed</text>
<text x="1210.9" y="2495" font-size="30" text-anchor="middle" letter-spacing="0.0">OA</text>
<text x="1373.91" y="2495" font-size="30" text-anchor="middle" letter-spacing="0.83">OA + fed</text>
<text transform="translate(38.6 471.8) rotate(-90)" x="0" y="0" font-size="30" letter-spacing="0.09"><tspan y="0" font-size="30">Endosymbiont density (cells cm</tspan><tspan y="-15.2" font-size="20">-</tspan><tspan y="-15.2" font-size="30">2</tspan><tspan y="0" font-size="30">)</tspan></text>
<text transform="translate(54.5 802.3) rotate(-90)" x="0" y="0" font-size="30" letter-spacing="0.5"><tspan y="0" font-size="30">CTAR (%)</tspan></text>
<text transform="translate(65.4 1429) rotate(-90)" x="0" y="0" font-size="30" letter-spacing="0.52"><tspan y="0" font-size="30">Calcification (mg day</tspan><tspan y="-16" font-size="20">-1</tspan><tspan y="0" font-size="30"> cm</tspan><tspan y="-16" font-size="20">-2</tspan><tspan y="0" font-size="30">)</tspan></text>
<text transform="translate(33.3 1841.5) rotate(-90)" x="0" y="0" font-size="30" letter-spacing="-0.25"><tspan y="0" font-size="30">Biomass (g cm</tspan><tspan y="-16" font-size="20">-2</tspan><tspan y="0" font-size="30">)</tspan></text>
<text transform="translate(64.4 2359.3) rotate(-90)" x="0" y="0" font-size="30" letter-spacing="0.25"><tspan y="0" font-size="30">Total lipids (J gdw</tspan><tspan y="-16" font-size="20">-1</tspan><tspan y="0" font-size="30">)</tspan></text>
</svg></body></html>
